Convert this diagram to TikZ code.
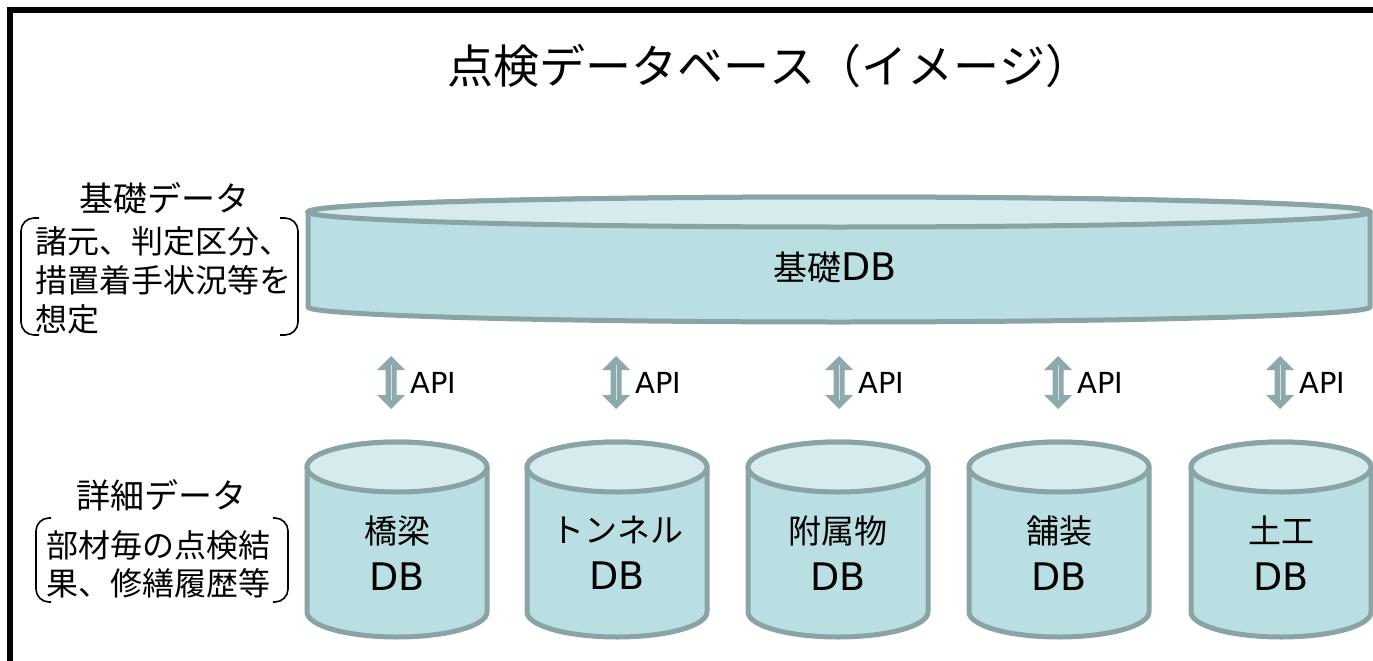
\documentclass[tikz,border=0pt]{standalone}
\usepackage{fontspec}
\setmainfont[Kerning=Off]{Noto Sans CJK JP}
\newfontfamily\latinf{DejaVu Sans}
\definecolor{edgec}{HTML}{8AA4A6}
\definecolor{bodyc}{HTML}{B9DFE2}
\definecolor{topc}{HTML}{D5EBEE}
\definecolor{arrowc}{HTML}{8DA9AB}
\definecolor{arrowin}{HTML}{CFE4E6}
\tikzset{
  cylbody/.style={fill=bodyc,draw=edgec,line width=5pt,line join=round},
  cyltop/.style={fill=topc,draw=edgec,line width=5pt},
  frameline/.style={draw=black,line width=5.5pt},
  bracket/.style={draw=black,line width=1.6pt,rounded corners=13pt},
  titletext/.style={inner sep=0pt,font=\fontsize{46}{52}\selectfont},
  headtext/.style={inner sep=0pt,font=\fontsize{34}{38}\selectfont},
  notetext/.style={inner sep=0pt,anchor=west,font=\fontsize{32}{36}\selectfont},
  dbtext/.style={inner sep=0pt,align=center,font=\fontsize{33}{47}\selectfont},
  apitext/.style={inner sep=0pt,anchor=west,font=\latinf\fontsize{29}{30}\selectfont},
}
\newcommand\dbcyl[5]{% cx, rx, top y, bottom y, ry
  \filldraw[cylbody] (#1-#2,#3) -- (#1-#2,#4)
    arc[start angle=180,end angle=360,x radius=#2,y radius=#5]
    -- (#1+#2,#3)
    arc[start angle=0,end angle=180,x radius=#2,y radius=#5] -- cycle;
  \filldraw[cyltop] (#1,#3) ellipse[x radius=#2,y radius=#5];
}
\newcommand\apiarrow[2]{% x, name
  \coordinate (#2top) at (#1,-356);
  \coordinate (#2bot) at (#1,-409);
  \fill[arrowc] (#2top) -- (#1+14,-370) -- (#1+5.5,-370) -- (#1+5.5,-395)
    -- (#1+14,-395) -- (#2bot) -- (#1-14,-395) -- (#1-5.5,-395)
    -- (#1-5.5,-370) -- (#1-14,-370) -- cycle;
  \draw[arrowin,line width=1.6pt] (#1+0.5,-365) -- (#1+0.5,-400);
  \node[apitext] (#2lab) at (#1+19,-383) {API};
}
\newcommand\dbw{{\latinf\fontsize{38}{47}\selectfont DB}}
\begin{document}
\begin{tikzpicture}[x=1pt,y=1pt]
\useasboundingbox (0,0) rectangle (1373,-661);
% frame
\draw[frameline] (10,-670) -- (10,-10) -- (1380,-10);
% title
\node[titletext] (title) at (769,-66) {点検データベース（イメージ）};
% base DB
\dbcyl{839}{531}{-212}{-307}{15}
\node[font=\fontsize{34}{38}\selectfont,inner sep=0pt] (basedb) at (835,-268) {基礎\dbw};
% left labels
\node[headtext] (basichead) at (164,-198) {基礎データ};
\draw[bracket] (39,-218) -- (21,-218) -- (21,-335) -- (39,-335);
\draw[bracket] (280,-218) -- (298,-218) -- (298,-335) -- (280,-335);
\node[notetext] (basic1) at (35,-241) {諸元、判定区分、};
\node[notetext] (basic2) at (35,-280) {措置着手状況等を};
\node[notetext] (basic3) at (35,-319) {想定};
\node[headtext] (detailhead) at (161,-495) {詳細データ};
\draw[bracket] (51,-518) -- (36,-518) -- (36,-602) -- (51,-602);
\draw[bracket] (273,-518) -- (288,-518) -- (288,-602) -- (273,-602);
\node[notetext] (detail1) at (46,-545) {部材毎の点検結};
\node[notetext] (detail2) at (46,-583) {果、修繕履歴等};
% API arrows
\apiarrow{391}{apia}
\apiarrow{616}{apib}
\apiarrow{839}{apic}
\apiarrow{1058}{apid}
\apiarrow{1280}{apie}
% detail DBs
\foreach \cx/\lab/\nm in {397/橋梁/bridge,617/トンネル/tunnel,838/附属物/annex,1059/舗装/pave,1281/土工/earth}{
  \dbcyl{\cx}{90}{-467}{-612}{25}
  \node[dbtext] (\nm) at (\cx,-553) {\lab\\\dbw};
}
\end{tikzpicture}
\end{document}
